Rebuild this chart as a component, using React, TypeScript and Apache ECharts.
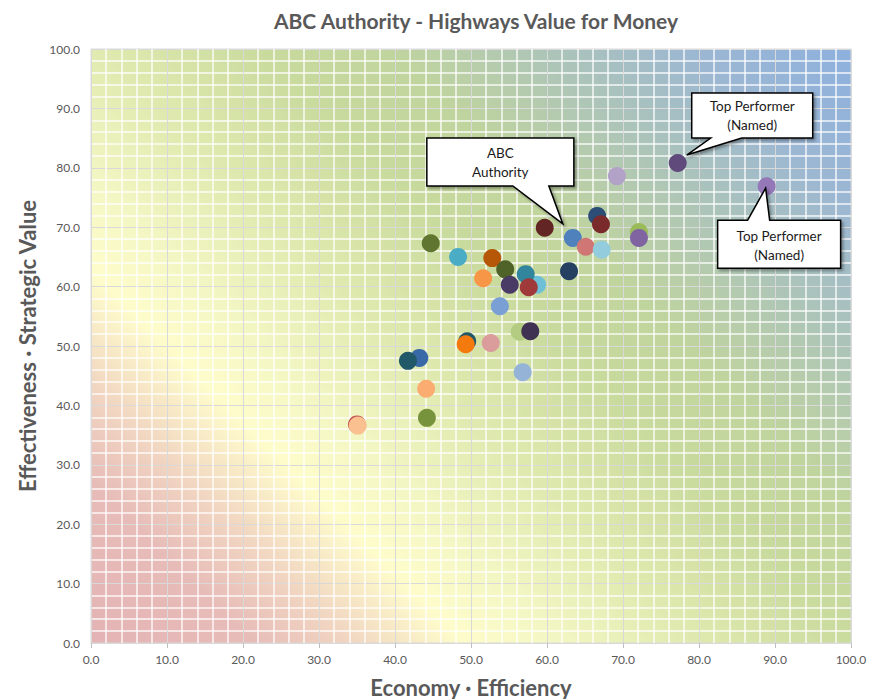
import React, { useEffect, useRef } from "react";
import * as echarts from "echarts";

const TITLE = "ABC Authority - Highways Value for Money";
const X_NAME = "Economy · Efficiency";
const Y_NAME = "Effectiveness · Strategic Value";

// point data (drawn in this order; later points sit on top)
const xs = [77.2, 88.9, 69.2, 66.6, 67.1, 59.7, 63.4, 65.1, 67.2, 72.1, 72.1, 44.7, 48.3, 52.8, 58.7, 54.5, 57.2, 55.1, 57.6, 51.6, 62.9, 53.8, 56.4, 57.8, 49.5, 49.3, 52.6, 43.2, 41.7, 56.8, 44.1, 44.2, 35.0, 35.1];
const ys = [80.8, 76.9, 78.6, 71.9, 70.5, 69.9, 68.2, 66.7, 66.2, 69.2, 68.2, 67.3, 65.0, 64.8, 60.3, 62.9, 62.1, 60.3, 59.9, 61.4, 62.6, 56.7, 52.4, 52.5, 50.8, 50.3, 50.5, 48.0, 47.5, 45.6, 42.8, 37.9, 36.8, 36.6];
const colors = ["#604a7b", "#9478b8", "#b3a2c7", "#2c4d75", "#7a2a2a", "#632523", "#4f81bd", "#d07775", "#93cddd", "#9bbb59", "#8064a2", "#5f7530", "#4bacc6", "#b65708", "#6ec0d9", "#4f6228", "#31859c", "#4a3a66", "#a0393a", "#f79646", "#254061", "#7a9fd4", "#b3cc82", "#3f3151", "#215968", "#f57a0d", "#db9c9c", "#3a69a8", "#215968", "#95b3d7", "#fbac70", "#77933c", "#c0504d", "#fac090"];

const CALLOUTS = [
  { idx: 6, lines: "ABC\nAuthority" },
  { idx: 0, lines: "Top Performer\n(Named)" },
  { idx: 1, lines: "Top Performer\n(Named)" },
];

const FONT = "Lato, 'Open Sans', sans-serif";

export default function App() {
  const ref = useRef<HTMLDivElement>(null);
  useEffect(() => {
    if (!ref.current) return;
    const chart = echarts.init(ref.current, undefined, { renderer: "svg" });
    const bg = new echarts.graphic.LinearGradient(0, 1, 1.104, 0.132, [
      { offset: 0, color: "#e4b3b5" },
      { offset: 0.12, color: "#e7bcb8" },
      { offset: 0.19, color: "#f1d5c1" },
      { offset: 0.275, color: "#fefccb" },
      { offset: 0.34, color: "#f4f7c4" },
      { offset: 0.46, color: "#dde8ad" },
      { offset: 0.58, color: "#c7d99c" },
      { offset: 0.66, color: "#c0d49e" },
      { offset: 0.77, color: "#adc5b7" },
      { offset: 0.88, color: "#9cb7d2" },
      { offset: 1, color: "#8db0de" },
    ]);
    const axisCommon = {
      type: "value" as const,
      min: 0,
      max: 100,
      interval: 10,
      axisLabel: {
        formatter: (v: number) => v.toFixed(1),
        color: "#595959",
        fontSize: 12,
        fontFamily: FONT,
      },
      axisLine: { show: true, lineStyle: { color: "#d9d9d9", width: 1 } },
      splitLine: { show: true, lineStyle: { color: "#d9d9d9", width: 1 } },
      minorTick: { show: false, splitNumber: 5 },
      minorSplitLine: { show: true, lineStyle: { color: "rgba(255,255,255,0.88)", width: 1.5 } },
      nameLocation: "middle" as const,
      nameTextStyle: { color: "#595959", fontSize: 22, fontWeight: "bold" as const, fontFamily: FONT },
    };
    const option: any = {
      animation: false,
      title: {
        text: TITLE,
        left: 471,
        textAlign: "center",
        top: 5,
        textStyle: { color: "#595959", fontSize: 21, fontWeight: "bold", fontFamily: FONT },
      },
      grid: {
        left: 91,
        top: 49,
        right: 28,
        bottom: 56,
        outerBoundsMode: "none",
        containLabel: false,
        show: true,
        backgroundColor: bg,
        borderColor: "#d9d9d9",
        borderWidth: 1,
      },
      xAxis: {
        ...axisCommon,
        name: X_NAME,
        nameGap: 33,
        axisTick: { show: true, length: 5, lineStyle: { color: "#bfbfbf" } },
        axisLabel: { ...axisCommon.axisLabel, margin: 10 },
      },
      yAxis: {
        ...axisCommon,
        name: Y_NAME,
        nameGap: 49,
        axisTick: { show: false },
        axisLabel: { ...axisCommon.axisLabel, margin: 11 },
      },
      series: [
        {
          type: "scatter",
          symbol: "circle",
          symbolSize: 18,
          data: xs.map((x, i) => ({ value: [x, ys[i]], itemStyle: { color: colors[i], opacity: 1 } })),
        },
      ],
    };
    chart.setOption(option);

    const shapes: any[] = [];
    const box = (pts: number[][], text: string, cx: number, cy: number) => {
      shapes.push({
        type: "polygon",
        shape: { points: pts },
        style: {
          fill: "#ffffff",
          stroke: "#000000",
          lineWidth: 1.5,
          shadowBlur: 3,
          shadowOffsetX: 2,
          shadowOffsetY: 2,
          shadowColor: "rgba(0,0,0,0.35)",
        },
        z: 100,
      });
      shapes.push({
        type: "text",
        style: {
          text,
          x: cx,
          y: cy,
          align: "center",
          verticalAlign: "middle",
          fill: "#1a1a1a",
          font: `13.5px ${FONT}`,
          lineHeight: 19,
        },
        z: 101,
      });
    };
    CALLOUTS.forEach((c, k) => {
      const [px, py] = chart.convertToPixel({ gridIndex: 0 }, [xs[c.idx], ys[c.idx]]) as number[];
      if (k === 0) {
        const L = px - 146, R = px + 1, T = py - 100, B = py - 52;
        box([[L, T], [R, T], [R, B], [px - 24, B], [px - 10, py - 14], [px - 60, B], [L, B]], c.lines, (L + R) / 2, (T + B) / 2 + 1);
      } else if (k === 1) {
        const L = px + 14, R = px + 135, T = py - 70, B = py - 25;
        box([[L, T], [R, T], [R, B], [px + 64, B], [px + 9, py - 8], [px + 33, B], [L, B]], c.lines, (L + R) / 2, (T + B) / 2);
      } else {
        const L = px - 49, R = px + 74, T = py + 34, B = py + 82;
        box([[L, T], [px - 19, T], [px - 1, py + 2], [px + 3, T], [R, T], [R, B], [L, B]], c.lines, (L + R) / 2, (T + B) / 2 + 1);
      }
    });
    chart.setOption({ graphic: shapes });
    return () => chart.dispose();
  }, []);
  return <div ref={ref} style={{ width: 879, height: 699, position: "absolute", left: 0, top: 0 }} />;
}
